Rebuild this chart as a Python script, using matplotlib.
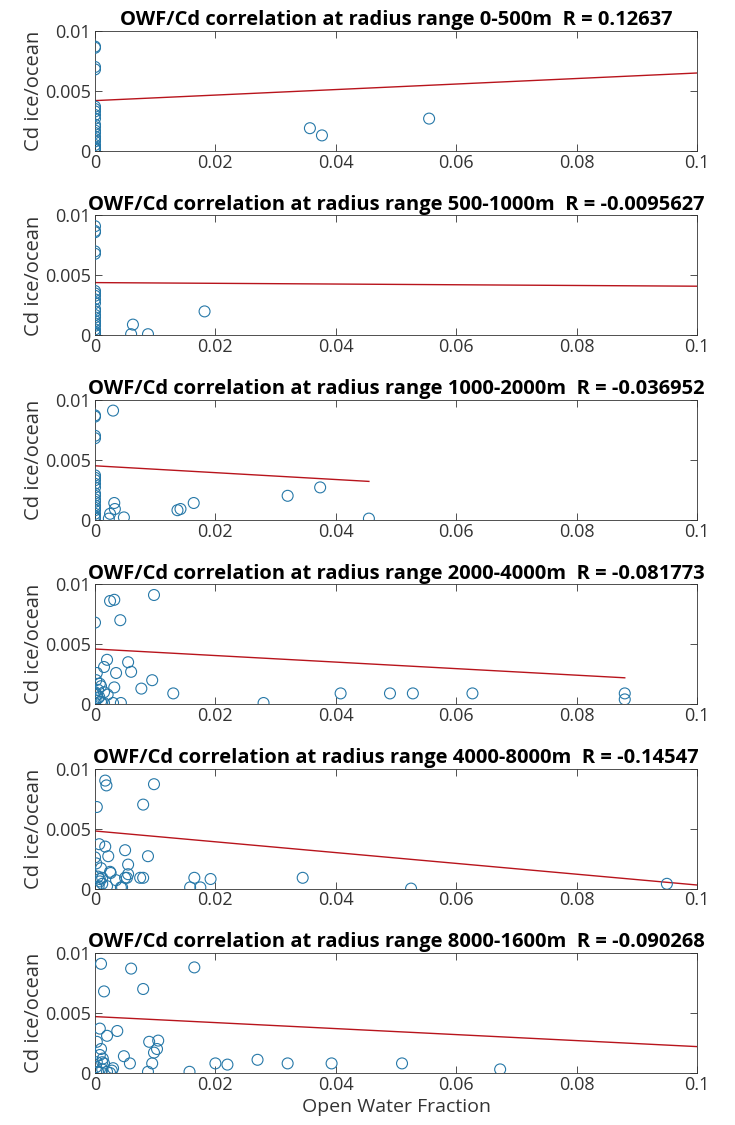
import matplotlib
matplotlib.use("Agg")
import matplotlib.pyplot as plt
import numpy as np

# radius ranges and correlation coefficients
ranges = ["0-500m", "500-1000m", "1000-2000m", "2000-4000m", "4000-8000m", "8000-1600m"]
r_values = ["0.12637", "-0.0095627", "-0.036952", "-0.081773", "-0.14547", "-0.090268"]

# common column of points at OWF = 0
col_y = [0.0087, 0.0086, 0.0070, 0.0068, 0.0037, 0.0035, 0.0033, 0.0030, 0.0027,
         0.0022, 0.0020, 0.0017, 0.0015, 0.0012, 0.0010, 0.0008, 0.0005, 0.0003,
         0.0002, 0.0001]

owf_1 = [0.0] * len(col_y) + [0.0357, 0.0377, 0.0555]
cd_1 = col_y + [0.0019, 0.0013, 0.0027]

owf_2 = [0.0] * (len(col_y) + 1) + [0.0063, 0.0060, 0.0088, 0.0182]
cd_2 = col_y + [0.0091, 0.0009, 0.0001, 0.0001, 0.0020]

owf_3 = [0.0] * len(col_y) + [0.0030, 0.0032, 0.0033, 0.0025, 0.0023, 0.0048,
                              0.0137, 0.0142, 0.0164, 0.0320, 0.0374, 0.0455]
cd_3 = col_y + [0.0091, 0.0014, 0.0009, 0.0005, 0.0001, 0.0002,
                0.0008, 0.0009, 0.0014, 0.0020, 0.0027, 0.0001]

owf_4 = [0.0, 0.0025, 0.0032, 0.0098, 0.0042, 0.0020, 0.0015, 0.0055, 0.0035, 0.0060,
         0.0003, 0.0002, 0.0095, 0.0008, 0.0010, 0.0032, 0.0077, 0.0015, 0.0021, 0.0130,
         0.0408, 0.0490, 0.0528, 0.0627, 0.0880, 0.0880, 0.0280, 0.0043, 0.0030, 0.0015,
         0.0, 0.0005, 0.0, 0.0005, 0.0001, 0.0010, 0.0003, 0.0007]
cd_4 = [0.0068, 0.0086, 0.0087, 0.0091, 0.0070, 0.0037, 0.0031, 0.0035, 0.0026, 0.0027,
        0.0026, 0.0020, 0.0020, 0.0017, 0.0015, 0.0014, 0.0013, 0.0010, 0.0008, 0.0009,
        0.0009, 0.0009, 0.0009, 0.0009, 0.0009, 0.0004, 0.0001, 0.0001, 0.0001, 0.0001,
        0.0001, 0.0005, 0.0010, 0.0012, 0.0003, 0.0002, 0.0008, 0.0006]

owf_5 = [0.0003, 0.0017, 0.0019, 0.0098, 0.0080, 0.0007, 0.0017, 0.0050, 0.0022, 0.0088,
         0.0, 0.0002, 0.0055, 0.0010, 0.0025, 0.0026, 0.0055, 0.0005, 0.0012, 0.0008,
         0.0050, 0.0053, 0.0075, 0.0080, 0.0165, 0.0192, 0.0345, 0.0035, 0.0158, 0.0175,
         0.0525, 0.0950, 0.0043, 0.0045, 0.0020, 0.0002, 0.0006, 0.0012, 0.0008]
cd_5 = [0.0068, 0.0090, 0.0086, 0.0087, 0.0070, 0.0037, 0.0035, 0.0032, 0.0027, 0.0027,
        0.0026, 0.0021, 0.0020, 0.0017, 0.0014, 0.0013, 0.0012, 0.0010, 0.0009, 0.0008,
        0.0009, 0.0009, 0.0009, 0.0009, 0.0009, 0.0008, 0.0009, 0.0007, 0.0001, 0.0001,
        0.0000, 0.0004, 0.0001, 0.0001, 0.0002, 0.0001, 0.0002, 0.0004, 0.0006]

owf_6 = [0.0010, 0.0060, 0.0165, 0.0015, 0.0080, 0.0008, 0.0037, 0.0020, 0.0003, 0.0090,
         0.0105, 0.0103, 0.0098, 0.0010, 0.0048, 0.0008, 0.0013, 0.0003, 0.0012, 0.0015,
         0.0058, 0.0095, 0.0200, 0.0220, 0.0270, 0.0320, 0.0393, 0.0510, 0.0673, 0.0088,
         0.0157, 0.0030, 0.0028, 0.0020, 0.0005, 0.0002, 0.0012, 0.0025]
cd_6 = [0.0091, 0.0087, 0.0088, 0.0068, 0.0070, 0.0037, 0.0035, 0.0031, 0.0026, 0.0026,
        0.0027, 0.0020, 0.0017, 0.0020, 0.0014, 0.0015, 0.0012, 0.0009, 0.0009, 0.0008,
        0.0008, 0.0008, 0.0008, 0.0007, 0.0011, 0.0008, 0.0008, 0.0008, 0.0003, 0.0001,
        0.0001, 0.0004, 0.0002, 0.0001, 0.0001, 0.0005, 0.0003, 0.0000]

owf_all = [owf_1, owf_2, owf_3, owf_4, owf_5, owf_6]
cd_all = [cd_1, cd_2, cd_3, cd_4, cd_5, cd_6]

# regression line end points (x0, x1, y0, y1)
fit_x0 = [0.0, 0.0, 0.0, 0.0, 0.0, 0.0]
fit_x1 = [0.1, 0.1, 0.0455, 0.088, 0.1, 0.1]
fit_y0 = [0.0042, 0.0044, 0.0045, 0.0046, 0.0048, 0.0047]
fit_y1 = [0.0065, 0.0041, 0.0032, 0.0022, 0.0003, 0.0022]

plt.rcParams['font.family'] = ['Open Sans', 'DejaVu Sans']

blue = (0.15, 0.47, 0.66)
grey = (0.2, 0.2, 0.2)

fig = plt.figure(figsize=(7.35, 11.25), dpi=100)
W, H = 735.0, 1125.0
left, right = 95, 697
for i in range(6):
    top = 31 + 184.4 * i
    bottom = top + 120
    ax = fig.add_axes([left / W, 1 - bottom / H, (right - left) / W, (bottom - top) / H])
    ax.scatter(owf_all[i], cd_all[i], s=62, facecolors='none', edgecolors=blue,
               linewidths=0.8, zorder=3)
    ax.plot([fit_x0[i], fit_x1[i]], [fit_y0[i], fit_y1[i]], color='#b8141c', lw=1.0, zorder=2)
    ax.set_xlim(0, 0.1)
    ax.set_ylim(0, 0.01)
    ax.set_xticks([0, 0.02, 0.04, 0.06, 0.08, 0.1])
    ax.set_xticklabels(["0", "0.02", "0.04", "0.06", "0.08", "0.1"])
    ax.set_yticks([0, 0.005, 0.01])
    ax.set_yticklabels(["0", "0.005", "0.01"])
    ax.tick_params(direction='in', top=True, right=True, length=5, width=0.6,
                   labelsize=13, colors=grey, pad=2)
    ax.tick_params(axis='y', pad=3)
    for sp in ax.spines.values():
        sp.set_color(grey)
        sp.set_linewidth(0.6)
    ax.set_ylabel("Cd ice/ocean", fontsize=14.5, color=grey, labelpad=1)
    ax.set_title("OWF/Cd correlation at radius range " + ranges[i] + "  R = " + r_values[i],
                 fontsize=14.5, fontweight='bold', color='black', pad=4)
    if i == 5:
        ax.set_xlabel("Open Water Fraction", fontsize=14, color=grey, labelpad=3)

fig.savefig("out.png", dpi=100)
